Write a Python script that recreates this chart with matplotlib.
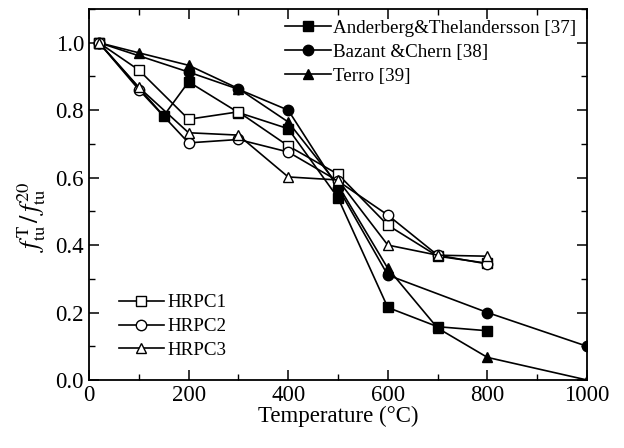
import matplotlib
matplotlib.use("Agg")
import matplotlib.pyplot as plt
from matplotlib.ticker import MultipleLocator

plt.rcParams['font.family'] = 'Liberation Serif'
plt.rcParams['mathtext.fontset'] = 'stix'

# tensile strength ratio vs temperature
T_and = [20, 150, 200, 300, 400, 500, 600, 700, 800]
R_and = [1.0, 0.783, 0.884, 0.793, 0.745, 0.54, 0.215, 0.158, 0.146]

T_baz = [20, 200, 300, 400, 500, 600, 800, 1000]
R_baz = [1.0, 0.913, 0.862, 0.80, 0.57, 0.311, 0.20, 0.10]

T_ter = [20, 100, 200, 300, 400, 500, 600, 700, 800, 1000]
R_ter = [1.0, 0.97, 0.933, 0.864, 0.765, 0.578, 0.331, 0.154, 0.067, 0.0]

T_hrpc = [20, 100, 200, 300, 400, 500, 600, 700, 800]
R_hrpc1 = [1.0, 0.919, 0.773, 0.795, 0.694, 0.61, 0.459, 0.367, 0.346]
R_hrpc2 = [1.0, 0.861, 0.703, 0.713, 0.676, 0.59, 0.489, 0.37, 0.344]
R_hrpc3 = [1.0, 0.868, 0.733, 0.726, 0.602, 0.593, 0.40, 0.37, 0.367]

fig = plt.figure(figsize=(6.24, 4.48), dpi=100)
ax = fig.add_axes([0.1426, 0.1518, 0.7981, 0.8282])

kw = dict(color='k', lw=1.2, markersize=7.5)
l1, = ax.plot(T_and, R_and, marker='s', mfc='k', label='Anderberg&Thelandersson [37]', **kw)
l2, = ax.plot(T_baz, R_baz, marker='o', mfc='k', label='Bazant &Chern [38]', **kw)
l3, = ax.plot(T_ter, R_ter, marker='^', mfc='k', label='Terro [39]', **kw)
h1, = ax.plot(T_hrpc, R_hrpc1, marker='s', mfc='w', label='HRPC1', **kw)
h2, = ax.plot(T_hrpc, R_hrpc2, marker='o', mfc='w', label='HRPC2', **kw)
h3, = ax.plot(T_hrpc, R_hrpc3, marker='^', mfc='w', label='HRPC3', **kw)

ax.set_xlim(0, 1000)
ax.set_ylim(0, 1.1)
ax.xaxis.set_major_locator(MultipleLocator(200))
ax.xaxis.set_minor_locator(MultipleLocator(100))
ax.yaxis.set_major_locator(MultipleLocator(0.2))
ax.yaxis.set_minor_locator(MultipleLocator(0.1))
ax.yaxis.set_major_formatter(matplotlib.ticker.FormatStrFormatter('%.1f'))
ax.tick_params(which='both', direction='in', top=True, right=True, labelsize=16.5)
ax.tick_params(which='major', length=7, width=1.1)
ax.tick_params(which='minor', length=4, width=1.0)
for s in ax.spines.values():
    s.set_linewidth(1.3)

ax.set_xlabel('Temperature (°C)', fontsize=16.5, labelpad=0)
ax.set_ylabel(r'$f_{\mathrm{tu}}^{\mathrm{T}}\,/\,f_{\mathrm{tu}}^{20}$', fontsize=19)
ax.yaxis.set_label_coords(-0.082, 0.44)

leg1 = ax.legend(handles=[l1, l2, l3], loc='upper right', bbox_to_anchor=(1.0, 1.0),
                 frameon=False, fontsize=13.7, handlelength=2.4, handletextpad=0.15,
                 labelspacing=0.35, borderaxespad=0.15)
ax.add_artist(leg1)
ax.legend(handles=[h1, h2, h3], loc='lower left', bbox_to_anchor=(0.025, 0.01),
          frameon=False, fontsize=13.7, handlelength=2.4, handletextpad=0.15,
          labelspacing=0.35)

fig.savefig('out.png', dpi=100)
